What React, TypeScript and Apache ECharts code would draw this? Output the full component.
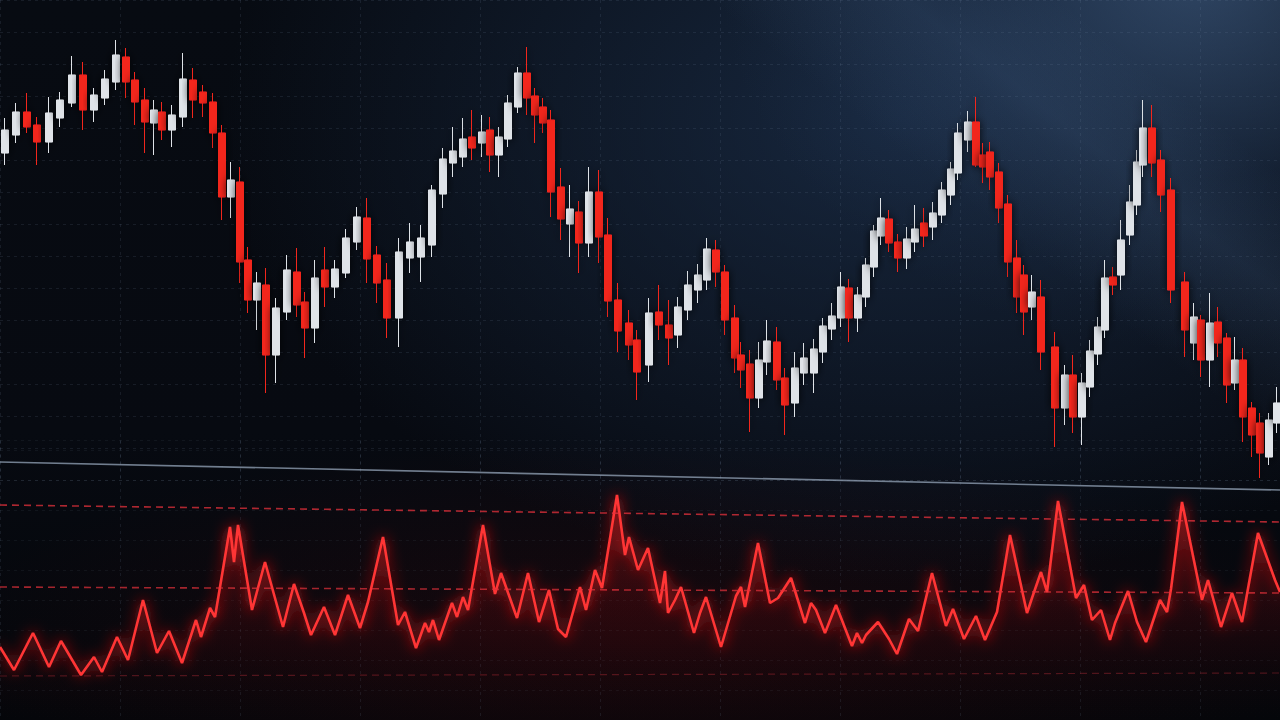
import React, { useEffect, useRef } from 'react';
import * as echarts from 'echarts';

// Candles: time (chart units), open, close, low, high
const candleTime = [
  0.5, 1.6, 2.7, 3.7, 4.9, 6.0, 7.2, 8.3, 9.4, 10.5,
  11.6, 12.6, 13.5, 14.5, 15.4, 16.2, 17.2, 18.3, 19.3, 20.3,
  21.3, 22.2, 23.1, 24.0, 24.8, 25.7, 26.6, 27.6, 28.7, 29.7,
  30.5, 31.5, 32.5, 33.5, 34.6, 35.7, 36.7, 37.7, 38.7, 39.9,
  41.0, 42.1, 43.2, 44.3, 45.3, 46.3, 47.2, 48.2, 49.0, 49.9,
  50.8, 51.8, 52.7, 53.5, 54.3, 55.1, 56.1, 57.0, 57.9, 58.9,
  59.9, 60.8, 61.8, 62.9, 63.7, 64.9, 65.9, 66.9, 67.8, 68.8,
  69.8, 70.7, 71.6, 72.5, 73.5, 74.1, 75.0, 75.9, 76.7, 77.7,
  78.5, 79.5, 80.4, 81.4, 82.3, 83.2, 84.1, 84.9, 85.8, 86.6,
  87.4, 88.1, 88.9, 89.8, 90.7, 91.5, 92.4, 93.3, 94.2, 95.1,
  95.8, 96.8, 97.6, 98.3, 99.0, 99.9, 100.8, 101.7, 102.4, 103.2,
  104.1, 105.5, 106.5, 107.3, 108.2, 109.0, 109.8, 110.5, 111.3, 112.1,
  113.0, 113.7, 114.3, 115.2, 116.1, 117.1, 118.5, 119.4, 120.1, 121.0,
  121.8, 122.7, 123.5, 124.3, 125.2, 126.0, 126.9, 127.7,
];
const candleOpen = [
  647, 665, 688, 675, 658, 682, 697, 725, 690, 702,
  718, 743, 720, 700, 677, 688, 670, 683, 720, 708,
  698, 667, 603, 618, 540, 500, 515, 445, 488, 528,
  498, 472, 530, 513, 527, 558, 582, 545, 520, 482,
  542, 543, 555, 606, 637, 643, 663, 657, 670, 645,
  661, 693, 727, 704, 693, 680, 613, 576, 588, 557,
  608, 565, 500, 477, 460, 435, 488, 475, 465, 490,
  510, 520, 550, 528, 482, 445, 436, 402, 438, 458,
  422, 397, 427, 427, 448, 471, 482, 512, 482, 503,
  533, 564, 581, 558, 542, 558, 577, 573, 585, 605,
  627, 660, 678, 645, 648, 628, 596, 542, 525, 493,
  503, 453, 392, 425, 383, 413, 446, 470, 523, 525,
  565, 595, 635, 672, 640, 610, 518, 457, 480, 440,
  478, 462, 417, 440, 392, 377, 343, 377,
];
const candleClose = [
  670, 688, 673, 658, 687, 700, 725, 690, 705, 721,
  745, 718, 698, 678, 690, 670, 685, 721, 700, 697,
  667, 603, 620, 538, 500, 517, 445, 492, 530, 495,
  472, 522, 513, 531, 562, 583, 541, 517, 482, 548,
  558, 562, 610, 641, 649, 661, 652, 668, 645, 663,
  697, 727, 702, 685, 677, 608, 581, 591, 557, 608,
  563, 499, 469, 455, 428, 487, 475, 462, 493, 515,
  525, 551, 528, 480, 442, 430, 402, 440, 459, 420,
  395, 432, 442, 451, 474, 484, 513, 482, 505, 535,
  569, 582, 557, 542, 561, 571, 564, 587, 610, 631,
  667, 678, 635, 633, 623, 592, 538, 503, 488, 508,
  448, 392, 425, 383, 417, 449, 473, 522, 515, 560,
  598, 638, 672, 637, 605, 510, 470, 483, 440, 477,
  457, 415, 440, 383, 365, 347, 380, 397,
];
const candleLow = [
  635, 657, 667, 635, 647, 673, 693, 670, 678, 695,
  710, 702, 675, 647, 645, 660, 653, 673, 682, 683,
  652, 580, 582, 517, 487, 470, 407, 417, 480, 483,
  442, 457, 493, 502, 522, 550, 517, 497, 462, 453,
  527, 518, 543, 592, 623, 633, 640, 643, 628, 623,
  653, 687, 685, 657, 667, 583, 560, 543, 527, 543,
  537, 483, 448, 440, 400, 418, 460, 435, 452, 480,
  497, 510, 513, 465, 427, 412, 368, 392, 425, 410,
  365, 383, 415, 407, 437, 460, 473, 458, 468, 493,
  523, 555, 548, 528, 531, 548, 553, 560, 577, 595,
  620, 648, 633, 617, 610, 577, 523, 487, 465, 480,
  430, 353, 375, 367, 355, 403, 435, 462, 505, 510,
  555, 585, 623, 623, 588, 497, 443, 440, 423, 413,
  443, 397, 410, 358, 343, 322, 335, 367,
];
const candleHigh = [
  682, 697, 707, 683, 703, 708, 744, 738, 712, 730,
  760, 752, 728, 712, 700, 698, 695, 747, 732, 715,
  707, 675, 638, 633, 553, 528, 532, 502, 545, 552,
  508, 540, 553, 540, 571, 593, 602, 554, 537, 562,
  577, 575, 615, 652, 673, 682, 690, 685, 683, 673,
  705, 733, 753, 712, 702, 690, 632, 615, 599, 633,
  630, 582, 517, 490, 470, 502, 515, 500, 503, 529,
  536, 562, 560, 535, 495, 458, 450, 458, 480, 473,
  432, 448, 457, 461, 482, 497, 528, 521, 513, 542,
  575, 602, 590, 566, 573, 595, 592, 598, 618, 638,
  677, 689, 703, 657, 658, 637, 605, 560, 535, 525,
  520, 468, 435, 445, 427, 460, 483, 540, 533, 580,
  615, 650, 700, 695, 650, 622, 528, 497, 485, 507,
  493, 467, 463, 452, 398, 387, 387, 413,
];

// Oscillator (lower panel): time and value
const indTime = [
  0, 1.4, 3.3, 4.9, 6.1, 8.1, 9.4, 10.2, 11.7, 12.8,
  14.3, 15.7, 16.9, 18.2, 19.6, 20.1, 21.0, 21.5, 23.0, 23.4,
  23.8, 25.2, 26.5, 28.3, 29.4, 30.4, 31.1, 32.4, 33.5, 34.8,
  36.0, 36.8, 38.3, 39.8, 40.5, 41.6, 42.5, 42.9, 43.3, 43.9,
  45.2, 45.7, 46.3, 46.8, 48.3, 49.5, 50.1, 51.7, 52.8, 53.9,
  54.9, 55.8, 56.6, 58.0, 58.6, 59.5, 60.2, 61.7, 62.5, 62.9,
  63.8, 64.8, 66.0, 66.5, 66.8, 67.5, 68.1, 69.4, 70.0, 70.6,
  72.1, 73.6, 74.1, 74.5, 75.8, 77.0, 77.8, 79.1, 80.5, 81.1,
  81.6, 82.5, 83.6, 85.2, 85.7, 86.2, 86.6, 87.8, 88.9, 89.7,
  90.9, 91.8, 93.2, 94.6, 95.3, 96.4, 97.6, 98.5, 99.7, 101.0,
  102.7, 103.2, 104.1, 104.7, 105.8, 107.6, 108.4, 109.2, 110.1, 111.0,
  111.5, 112.8, 113.7, 114.6, 116.0, 116.7, 117.1, 118.2, 120.2, 120.8,
  122.1, 123.2, 124.2, 125.8, 127.5, 128.0,
];
const indValue = [
  73, 50, 87, 53, 79, 45, 63, 48, 83, 60,
  120, 67, 89, 57, 100, 83, 112, 103, 193, 158,
  195, 110, 158, 93, 136, 107, 85, 113, 85, 125,
  92, 118, 183, 95, 108, 72, 97, 88, 100, 80,
  117, 103, 123, 110, 195, 126, 147, 102, 147, 98,
  130, 91, 83, 133, 110, 150, 132, 225, 165, 183,
  150, 172, 117, 149, 107, 120, 133, 87, 107, 123,
  73, 124, 133, 113, 177, 117, 122, 142, 97, 117,
  110, 87, 115, 74, 87, 77, 85, 98, 81, 66,
  101, 89, 147, 94, 111, 81, 104, 80, 108, 185,
  107, 122, 148, 128, 219, 122, 135, 100, 110, 80,
  97, 129, 98, 78, 120, 108, 131, 218, 120, 140,
  93, 127, 98, 187, 140, 128,
];

// Reference levels in the lower panel (start value, end value)
const upperBand = [215, 198];
const middleBand = [133, 127];
const lowerBand = [44, 47];
const panelDivider = [258, 230];

export default function App() {
  const ref = useRef<HTMLDivElement>(null);

  useEffect(() => {
    document.body.style.margin = '0';
    document.body.style.background = '#05080d';
    if (!ref.current) return;
    const chart = echarts.init(ref.current, undefined, { renderer: 'svg' });

    const candles = candleTime.map((t, i) => [t, candleOpen[i], candleClose[i], candleLow[i], candleHigh[i]]);
    const osc = indTime.map((t, i) => [t, indValue[i]]);

    const gridLine = { show: true, lineStyle: { color: 'rgba(120,140,170,0.14)', type: [3, 4] as any, width: 1 } };

    chart.setOption({
      animation: false,
      backgroundColor: 'transparent',
      grid: [
        { left: 0, right: 0, top: 0, height: 480 },
        { left: 0, right: 0, top: 440, height: 280 },
      ],
      xAxis: [
        { type: 'value', gridIndex: 0, min: 0, max: 128, interval: 12, axisLine: { show: false }, axisTick: { show: false }, axisLabel: { show: false }, splitLine: gridLine },
        { type: 'value', gridIndex: 1, min: 0, max: 128, interval: 12, axisLine: { show: false }, axisTick: { show: false }, axisLabel: { show: false }, splitLine: gridLine },
      ],
      yAxis: [
        { type: 'value', gridIndex: 0, min: 320, max: 800, interval: 32, axisLine: { show: false }, axisTick: { show: false }, axisLabel: { show: false }, splitLine: gridLine },
        { type: 'value', gridIndex: 1, min: 0, max: 280, interval: 30, axisLine: { show: false }, axisTick: { show: false }, axisLabel: { show: false }, splitLine: { show: true, lineStyle: { color: 'rgba(120,140,170,0.09)', type: [3, 4] as any } } },
      ],
      series: [
        {
          type: 'line',
          xAxisIndex: 1,
          yAxisIndex: 1,
          data: osc,
          symbol: 'none',
          smooth: false,
          lineStyle: { color: '#ff3434', width: 2.6, shadowBlur: 14, shadowColor: 'rgba(255,30,30,1)' },
          areaStyle: {
            color: new echarts.graphic.LinearGradient(0, 0, 0, 1, [
              { offset: 0, color: 'rgba(225,25,25,0.5)' },
              { offset: 0.5, color: 'rgba(150,10,15,0.25)' },
              { offset: 1, color: 'rgba(60,0,5,0.0)' },
            ]),
          },
          z: 3,
          markLine: {
            silent: true,
            symbol: 'none',
            label: { show: false },
            data: [
              [{ coord: [0, panelDivider[0]], lineStyle: { color: 'rgba(150,165,185,0.75)', type: 'solid', width: 1.6 } }, { coord: [128, panelDivider[1]] }],
              [{ coord: [0, upperBand[0]], lineStyle: { color: 'rgba(230,50,60,0.75)', type: [7, 5], width: 1.6 } }, { coord: [128, upperBand[1]] }],
              [{ coord: [0, middleBand[0]], lineStyle: { color: 'rgba(230,50,60,0.7)', type: [7, 5], width: 1.6 } }, { coord: [128, middleBand[1]] }],
              [{ coord: [0, lowerBand[0]], lineStyle: { color: 'rgba(200,50,60,0.35)', type: [7, 5], width: 1.2 } }, { coord: [128, lowerBand[1]] }],
            ],
          },
        },
        {
          type: 'candlestick',
          xAxisIndex: 0,
          yAxisIndex: 0,
          data: candles,
          encode: { x: 0, y: [1, 2, 3, 4] },
          barWidth: 8,
          itemStyle: {
            color: '#dfe3e8',
            color0: '#f2251f',
            borderColor: '#dfe3e8',
            borderColor0: '#f2251f',
            borderWidth: 1,
            shadowBlur: 8,
            shadowColor: 'rgba(0,0,0,0.85)',
          },
          z: 5,
        },
      ],
    });

    return () => chart.dispose();
  }, []);

  const bg = [
    'linear-gradient(218deg, rgba(0,0,0,0) 10%, rgba(90,125,170,0.14) 17%, rgba(0,0,0,0) 26%)',
    'radial-gradient(ellipse 480px 380px at 1200px -30px, rgba(80,115,160,0.5), rgba(45,70,105,0.22) 55%, rgba(0,0,0,0) 100%)',
    'radial-gradient(ellipse 900px 620px at 900px 120px, rgba(26,44,70,0.85), rgba(0,0,0,0) 75%)',
    'radial-gradient(ellipse 700px 200px at 640px 640px, rgba(90,10,15,0.22), rgba(0,0,0,0) 100%)',
    'linear-gradient(180deg, #070b12 0%, #070a11 60%, #04060a 100%)',
  ].join(', ');

  return (
    <div style={{ width: 1280, height: 720, background: bg, overflow: 'hidden' }}>
      <div ref={ref} style={{ width: 1280, height: 720 }} />
    </div>
  );
}
